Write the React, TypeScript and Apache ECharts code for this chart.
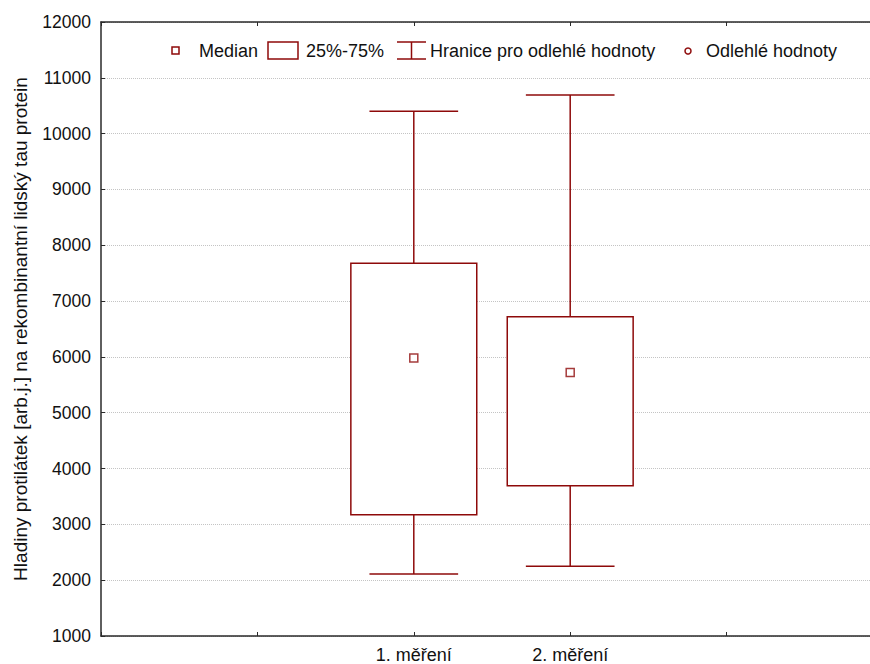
import React, { useEffect, useRef } from "react";
import * as echarts from "echarts";

const axisSlots = ["", "", "1. měření", "2. měření", "", ""];
const groupSlot = [2, 3];
const whiskerLow = [2110, 2250];
const quartile1 = [3170, 3690];
const medians = [5980, 5720];
const quartile3 = [7680, 6720];
const whiskerHigh = [10400, 10690];

const yMin = 1000;
const yMax = 12000;
const yStep = 1000;

const yTitle = "Hladiny protilátek [arb.j.] na rekombinantní lidský tau protein";
const legendLabels = ["Median", "25%-75%", "Hranice pro odlehlé hodnoty", "Odlehlé hodnoty"];

const RED = "#8e0a0a";
const AXIS = "#2a2a2a";
const FONT = "'Liberation Sans', Arial, sans-serif";
const FS = 18;

export default function App() {
  const ref = useRef<HTMLDivElement>(null);
  useEffect(() => {
    if (!ref.current) return;
    const chart = echarts.init(ref.current, null, { renderer: "svg" });
    const boxData = groupSlot.map((s, i) => [s, whiskerLow[i], quartile1[i], quartile3[i], whiskerHigh[i]]);
    const medData = groupSlot.map((s, i) => [s, medians[i]]);
    const stroke = { stroke: RED, lineWidth: 1.5, fill: null as any };
    const ly = 51;
    const textStyle = (x: number, text: string) => ({
      type: "text",
      x,
      y: ly,
      style: { text, fill: "#111", font: `${FS}px ${FONT}`, textVerticalAlign: "middle", verticalAlign: "middle" },
    });
    chart.setOption({
      animation: false,
      backgroundColor: "#fff",
      grid: { left: 101, top: 22, right: 0, bottom: 27.5 },
      xAxis: [
        {
          type: "category",
          data: axisSlots,
          boundaryGap: false,
          axisLine: { show: true, lineStyle: { color: AXIS, width: 1.5 } },
          axisTick: { show: true, inside: true, length: 4, interval: 0, lineStyle: { color: AXIS } },
          axisLabel: { interval: 0, color: "#111", fontSize: 18, fontFamily: FONT, margin: 10 },
          splitLine: { show: false },
        },
        {
          type: "category",
          data: axisSlots,
          position: "top",
          boundaryGap: false,
          axisLine: { show: true, lineStyle: { color: AXIS, width: 1.5 } },
          axisTick: { show: true, inside: true, length: 4, interval: 0, lineStyle: { color: AXIS } },
          axisLabel: { show: false },
          splitLine: { show: false },
        },
      ],
      yAxis: {
        type: "value",
        min: yMin,
        max: yMax,
        interval: yStep,
        name: yTitle,
        nameLocation: "middle",
        nameGap: 71,
        nameRotate: 90,
        nameTextStyle: { color: "#111", fontSize: 19, fontFamily: FONT },
        axisLine: { show: true, lineStyle: { color: AXIS, width: 1.5 } },
        axisTick: { show: true, inside: true, length: 4, lineStyle: { color: AXIS } },
        axisLabel: {
          color: "#111",
          fontSize: 17.5,
          fontFamily: FONT,
          margin: 10,
          formatter: (v: number) => String(v),
        },
        splitLine: { show: true, lineStyle: { color: "#c4c4c4", type: "dotted", width: 1 } },
      },
      series: [
        {
          type: "custom",
          xAxisIndex: 0,
          data: boxData,
          encode: { x: 0, y: [1, 2, 3, 4] },
          renderItem: (params: any, api: any) => {
            const x = api.value(0);
            const lo = api.coord([x, api.value(1)]);
            const q1 = api.coord([x, api.value(2)]);
            const q3 = api.coord([x, api.value(3)]);
            const hi = api.coord([x, api.value(4)]);
            const band = api.size([1, 0])[0];
            const cx = lo[0];
            const boxW = band * 0.805;
            const capW = band * 0.567;
            return {
              type: "group",
              children: [
                { type: "line", shape: { x1: cx, y1: hi[1], x2: cx, y2: q3[1] }, style: stroke },
                { type: "line", shape: { x1: cx - capW / 2, y1: hi[1], x2: cx + capW / 2, y2: hi[1] }, style: stroke },
                { type: "line", shape: { x1: cx, y1: q1[1], x2: cx, y2: lo[1] }, style: stroke },
                { type: "line", shape: { x1: cx - capW / 2, y1: lo[1], x2: cx + capW / 2, y2: lo[1] }, style: stroke },
                {
                  type: "rect",
                  shape: { x: cx - boxW / 2, y: q3[1], width: boxW, height: q1[1] - q3[1] },
                  style: { stroke: RED, lineWidth: 1.5, fill: "#fff" },
                },
              ],
            };
          },
          z: 2,
        },
        {
          type: "scatter",
          xAxisIndex: 0,
          data: medData,
          symbol: "rect",
          symbolSize: 8,
          itemStyle: { color: "#fff", borderColor: RED, borderWidth: 1.5 },
          z: 3,
        },
      ],
      graphic: [
        { type: "rect", shape: { x: 172, y: 47, width: 7, height: 7 }, style: { fill: "#fff", stroke: RED, lineWidth: 1.5 } },
        textStyle(199, legendLabels[0]),
        { type: "rect", shape: { x: 268, y: 42, width: 30, height: 17 }, style: { fill: "#fff", stroke: RED, lineWidth: 1.5 } },
        textStyle(306, legendLabels[1]),
        { type: "line", shape: { x1: 397, y1: 42, x2: 426, y2: 42 }, style: { stroke: RED, lineWidth: 1.5 } },
        { type: "line", shape: { x1: 411.5, y1: 42, x2: 411.5, y2: 59 }, style: { stroke: RED, lineWidth: 1.5 } },
        { type: "line", shape: { x1: 397, y1: 59, x2: 426, y2: 59 }, style: { stroke: RED, lineWidth: 1.5 } },
        textStyle(430, legendLabels[2]),
        { type: "circle", shape: { cx: 688, cy: 51, r: 3 }, style: { fill: "#fff", stroke: RED, lineWidth: 1.5 } },
        textStyle(706, legendLabels[3]),
      ],
    });
    return () => chart.dispose();
  }, []);
  return <div ref={ref} style={{ position: "fixed", left: 0, top: 0, width: 886, height: 664 }} />;
}
